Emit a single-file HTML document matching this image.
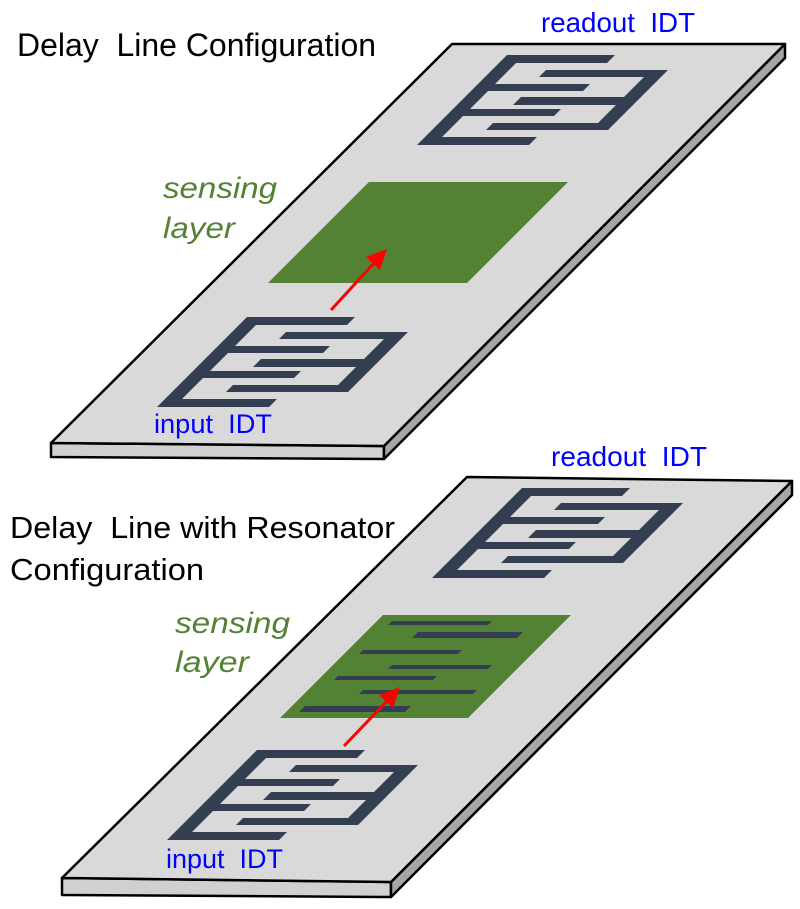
<!DOCTYPE html>
<html><head><meta charset="utf-8"><style>
html,body{margin:0;padding:0;background:#fff;}
svg{display:block;}
text{font-family:"Liberation Sans",Arial,sans-serif;white-space:pre;}
</style></head><body>
<svg width="800" height="909" viewBox="0 0 800 909" xmlns="http://www.w3.org/2000/svg">
<defs>
<g id="idt" fill="#333f50">
  <rect x="-2" y="0" width="17" height="90"/>
  <rect x="0" y="0" width="106" height="8"/>
  <rect x="0" y="29" width="110" height="7"/>
  <rect x="0" y="54" width="106" height="7"/>
  <rect x="0" y="82" width="110" height="8"/>
  <rect x="157" y="15" width="17" height="60"/>
  <rect x="52" y="15" width="120" height="7"/>
  <rect x="54" y="42" width="118" height="8"/>
  <rect x="52" y="68" width="120" height="7"/>
</g>
</defs>

<!-- top plate -->
<polygon points="51,443 384,446 384,459 51,457" fill="#d0d0d0" stroke="#000" stroke-width="2.5" stroke-linejoin="round"/>
<polygon points="785,44 785,58 384,459 384,446" fill="#a6a6a6" stroke="#000" stroke-width="2.5" stroke-linejoin="round"/>
<polygon points="452,44 785,44 384,446 51,443" fill="#d9d9d9" stroke="#000" stroke-width="2.5" stroke-linejoin="round"/>

<g transform="matrix(1,0,-1,1,0,0)">
  <use href="#idt" transform="translate(564,55)"/>
  <use href="#idt" transform="translate(566,317)"/>
  <rect x="551" y="182" width="199" height="101" fill="#548235"/>
</g>
<line x1="331" y1="310" x2="375" y2="262" stroke="#ff0000" stroke-width="3"/>
<polygon points="387,249 380,270 366,257" fill="#ff0000"/>

<!-- bottom plate -->
<polygon points="62,878 391,882 391,897 62,895" fill="#d0d0d0" stroke="#000" stroke-width="2.5" stroke-linejoin="round"/>
<polygon points="792,481 792,495 391,897 391,882" fill="#a6a6a6" stroke="#000" stroke-width="2.5" stroke-linejoin="round"/>
<polygon points="467,477 792,481 391,882 62,878" fill="#d9d9d9" stroke="#000" stroke-width="2.5" stroke-linejoin="round"/>

<g transform="matrix(1,0,-1,1,0,0)">
  <use href="#idt" transform="translate(1012,488)"/>
  <use href="#idt" transform="translate(1009,750)"/>
  <rect x="998" y="615" width="188" height="103" fill="#548235"/>
  <g fill="#333f50">
    <rect x="1013" y="621" width="100" height="4"/>
    <rect x="1050" y="632" width="105" height="6"/>
    <rect x="1013" y="650" width="99" height="4"/>
    <rect x="1057" y="665" width="100" height="4"/>
    <rect x="1014" y="676" width="99" height="4"/>
    <rect x="1053" y="690" width="114" height="4"/>
    <rect x="1011" y="706" width="106" height="6"/>
  </g>
</g>
<line x1="344" y1="746" x2="389" y2="699" stroke="#ff0000" stroke-width="3"/>
<polygon points="400,687 393,708 379,695" fill="#ff0000"/>

<!-- text -->
<text x="17" y="56" font-size="32" fill="#000" textLength="359" lengthAdjust="spacingAndGlyphs">Delay  Line Configuration</text>
<text x="541" y="32" font-size="28" fill="#0000ff" textLength="154" lengthAdjust="spacingAndGlyphs">readout  IDT</text>
<text x="154" y="433" font-size="27" fill="#0000ff" textLength="118" lengthAdjust="spacingAndGlyphs">input  IDT</text>
<text x="163" y="198" font-size="30" font-style="italic" fill="#548235" textLength="114" lengthAdjust="spacingAndGlyphs">sensing</text>
<text x="163" y="238" font-size="30" font-style="italic" fill="#548235" textLength="72" lengthAdjust="spacingAndGlyphs">layer</text>

<text x="551" y="466" font-size="28" fill="#0000ff" textLength="156" lengthAdjust="spacingAndGlyphs">readout  IDT</text>
<text x="10" y="538" font-size="31" fill="#000" textLength="385" lengthAdjust="spacingAndGlyphs">Delay  Line with Resonator</text>
<text x="10" y="580" font-size="31" fill="#000" textLength="194" lengthAdjust="spacingAndGlyphs">Configuration</text>
<text x="175" y="633" font-size="30" font-style="italic" fill="#548235" textLength="115" lengthAdjust="spacingAndGlyphs">sensing</text>
<text x="175" y="672" font-size="30" font-style="italic" fill="#548235" textLength="74" lengthAdjust="spacingAndGlyphs">layer</text>
<text x="166" y="868" font-size="27" fill="#0000ff" textLength="117" lengthAdjust="spacingAndGlyphs">input  IDT</text>
</svg>
</body></html>
